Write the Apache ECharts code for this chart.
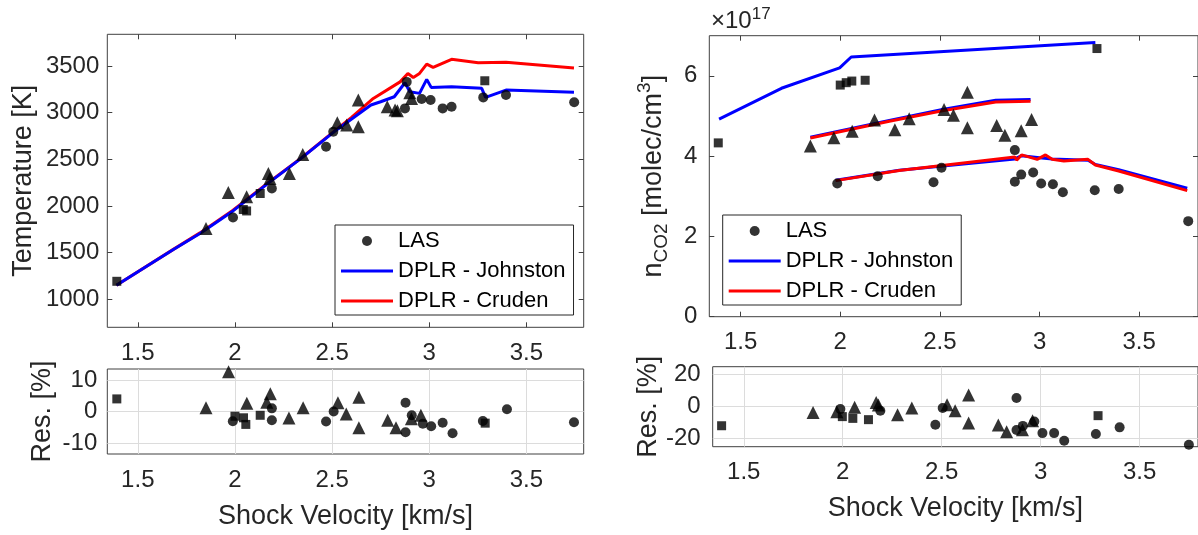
<!DOCTYPE html>
<html>
<head>
<meta charset="utf-8">
<script src="https://cdn.jsdelivr.net/npm/echarts@6/dist/echarts.min.js"></script>
<style>html,body{margin:0;padding:0;background:#fff}#c{width:1198px;height:535px}</style>
</head>
<body>
<div id="c"></div>
<script>
// ---------- Temperature panel (top-left) ----------
const tempJohnstonV = [1.39, 1.683, 1.82, 1.99, 2.18, 2.34, 2.51, 2.70, 2.75, 2.82, 2.875, 2.90, 2.95, 2.987, 3.01, 3.115, 3.27, 3.29, 3.395, 3.745];
const tempJohnstonT = [1150, 1533, 1705, 1947, 2259, 2510, 2795, 3082, 3117, 3171, 3321, 3224, 3207, 3357, 3271, 3278, 3261, 3164, 3242, 3218];
const tempCrudenV = [1.39, 1.683, 1.82, 1.99, 2.18, 2.34, 2.51, 2.60, 2.712, 2.85, 2.89, 2.918, 2.95, 2.987, 3.02, 3.115, 3.252, 3.395, 3.745];
const tempCrudenT = [1150, 1535, 1712, 1955, 2262, 2512, 2800, 2950, 3153, 3330, 3420, 3378, 3421, 3521, 3486, 3572, 3536, 3540, 3479];
const tempCircV = [1.99, 2.19, 2.469, 2.506, 2.875, 2.884, 2.961, 3.007, 3.069, 3.115, 3.278, 3.395, 3.746];
const tempCircT = [1877, 2188, 2634, 2795, 3046, 3330, 3146, 3135, 3046, 3064, 3164, 3189, 3111];
const tempTriV = [1.851, 1.966, 2.06, 2.172, 2.18, 2.28, 2.349, 2.527, 2.575, 2.635, 2.635, 2.784, 2.824, 2.836, 2.90, 2.909];
const tempTriT = [1759, 2145, 2098, 2349, 2295, 2349, 2553, 2892, 2867, 3135, 2849, 3064, 3028, 3020, 3214, 3153];
const tempSqV = [1.392, 2.043, 2.06, 2.13, 3.286];
const tempSqT = [1193, 1962, 1947, 2134, 3342];

// ---------- Temperature residuals (bottom-left) ----------
const resTCircV = [1.989, 2.19, 2.19, 2.469, 2.508, 2.878, 2.878, 2.91, 2.967, 3.01, 3.069, 3.12, 3.276, 3.4, 3.745];
const resTCircR = [-3.1, 1.0, -2.8, -3.2, 0.0, 2.8, -6.6, -1.2, -3.9, -4.7, -3.6, -6.9, -3.0, 0.7, -3.4];
const resTTriV = [1.851, 1.967, 2.061, 2.164, 2.182, 2.278, 2.351, 2.53, 2.573, 2.638, 2.638, 2.786, 2.829, 2.908, 2.957];
const resTTriR = [1.2, 12.6, 2.6, 2.9, 5.6, -2.1, 1.2, 2.8, -0.8, 4.5, -5.2, -2.8, -5.2, -2.3, -1.2];
const resTSqV = [1.392, 2.0, 2.044, 2.056, 2.13, 3.288];
const resTSqR = [4.0, -1.5, -2.0, -4.1, -1.2, -3.7];

// ---------- CO2 number density panel (top-right), units of 1e17 ----------
const nUpperJohnstonV = [1.392, 1.705, 1.997, 2.055, 3.28];
const nUpperJohnstonN = [4.92, 5.69, 6.20, 6.47, 6.83];
const nMidJohnstonV = [1.85, 2.246, 2.513, 2.78, 2.955];
const nMidJohnstonN = [4.47, 4.89, 5.16, 5.39, 5.41];
const nMidCrudenV = [1.85, 2.246, 2.513, 2.78, 2.955];
const nMidCrudenN = [4.45, 4.87, 5.13, 5.35, 5.37];
const nLowJohnstonV = [1.977, 2.296, 2.876, 2.91, 3.0, 3.063, 3.243, 3.28, 3.397, 3.741];
const nLowJohnstonN = [3.40, 3.65, 3.93, 4.01, 3.96, 3.93, 3.90, 3.79, 3.66, 3.20];
const nLowCrudenV = [1.977, 2.296, 2.876, 2.885, 2.91, 2.988, 3.03, 3.063, 3.122, 3.243, 3.28, 3.397, 3.741];
const nLowCrudenN = [3.39, 3.64, 3.98, 3.90, 4.03, 3.92, 4.03, 3.92, 3.88, 3.92, 3.78, 3.63, 3.14];
const nCircV = [1.985, 2.188, 2.468, 2.508, 2.876, 2.876, 2.908, 2.968, 3.008, 3.067, 3.117, 3.277, 3.397, 3.746];
const nCircN = [3.32, 3.50, 3.35, 3.71, 4.15, 3.36, 3.54, 3.59, 3.32, 3.30, 3.10, 3.15, 3.18, 2.38];
const nTriV = [1.85, 1.968, 2.06, 2.172, 2.274, 2.346, 2.521, 2.568, 2.638, 2.638, 2.785, 2.826, 2.908, 2.96];
const nTriN = [4.25, 4.46, 4.62, 4.90, 4.66, 4.93, 5.16, 5.02, 5.59, 4.71, 4.76, 4.52, 4.63, 4.91];
const nSqV = [1.388, 2.0, 2.03, 2.058, 2.125, 3.288];
const nSqN = [4.33, 5.77, 5.83, 5.87, 5.89, 6.68];

// ---------- CO2 residuals (bottom-right) ----------
const resNCircV = [1.988, 2.19, 2.468, 2.505, 2.878, 2.878, 2.91, 2.968, 3.009, 3.068, 3.119, 3.279, 3.399, 3.749];
const resNCircR = [-1.5, -2.5, -11.3, -0.8, 5.4, -14.6, -12.0, -9.3, -16.5, -16.5, -21.3, -17.1, -12.9, -23.8];
const resNTriV = [1.85, 1.97, 2.06, 2.169, 2.18, 2.277, 2.349, 2.527, 2.568, 2.636, 2.636, 2.786, 2.828, 2.908, 2.959];
const resNTriR = [-3.6, -3.1, -0.4, 2.7, 1.0, -5.1, -0.8, 1.2, -2.5, 7.3, -10.2, -11.5, -15.6, -14.4, -8.8];
const resNSqV = [1.388, 1.998, 2.051, 2.13, 3.29];
const resNSqR = [-11.9, -6.2, -7.3, -8.1, -5.6];

// ---------- tick labels ----------
const velTicks = [1.5, 2, 2.5, 3, 3.5];
const tempTicks = [1000, 1500, 2000, 2500, 3000, 3500];
const resTTicks = [-10, 0, 10];
const nTicks = [0, 2, 4, 6];
const resNTicks = [-20, 0, 20];

const zip = (a, b) => a.map((v, i) => [v, b[i]]);
const FF = '"Liberation Sans", Arial, Helvetica, sans-serif';
const TXT = '#262626';
const AX = '#404040';
const XMIN = 1.343, XMAX = 3.795;

const grids = [
  {left: 107.3, top: 34.3, width: 476.4, height: 293},
  {left: 107.3, top: 369, width: 476.4, height: 85},
  {left: 709.3, top: 35.7, width: 490, height: 281},
  {left: 712.7, top: 366.7, width: 487, height: 80}
].map(g => Object.assign(g, {show: true, borderColor: AX, borderWidth: 1, backgroundColor: 'transparent'}));

const xAxis = [], yAxis = [];
function addAxes(g, yr, yt, yName, yGap, yMargin, xName, xGap, yNameStyle) {
  const tick = (vals) => ({show: true, inside: true, length: 5, lineStyle: {color: AX, width: 1}, customValues: vals});
  const noLine = {show: false, onZero: false};
  xAxis.push({
    gridIndex: g, type: 'value', min: XMIN, max: XMAX, position: 'bottom',
    axisLine: noLine, axisTick: tick(velTicks),
    axisLabel: {customValues: velTicks, margin: 14, fontSize: 24, color: TXT, fontFamily: FF, formatter: v => String(v)},
    splitLine: {show: false},
    name: xName || '', nameLocation: 'middle', nameGap: xGap || 0,
    nameTextStyle: {fontSize: 27, color: TXT, fontFamily: FF}
  });
  xAxis.push({
    gridIndex: g, type: 'value', min: XMIN, max: XMAX, position: 'top',
    axisLine: noLine, axisTick: tick(velTicks), axisLabel: {show: false}, splitLine: {show: false}
  });
  yAxis.push({
    gridIndex: g, type: 'value', min: yr[0], max: yr[1], position: 'left',
    axisLine: noLine, axisTick: tick(yt),
    axisLabel: {customValues: yt, margin: yMargin, fontSize: 24, color: TXT, fontFamily: FF, formatter: v => String(v)},
    splitLine: {show: false},
    name: yName, nameLocation: 'middle', nameGap: yGap, nameRotate: 90,
    nameTextStyle: yNameStyle || {fontSize: 27, color: TXT, fontFamily: FF}
  });
  yAxis.push({
    gridIndex: g, type: 'value', min: yr[0], max: yr[1], position: 'right',
    axisLine: noLine, axisTick: tick(yt), axisLabel: {show: false}, splitLine: {show: false}
  });
}
addAxes(0, [700, 3840], tempTicks, 'Temperature [K]', 70, 8);
addAxes(1, [-13.5, 13.5], resTTicks, 'Res. [%]', 51, 10, 'Shock Velocity [km/s]', 49);
addAxes(2, [0, 7], nTicks, '{n|n}{s|CO2}{n| [molec/cm}{p|3}{n|]}', 38, 12, '', 0, {
  color: TXT, fontFamily: FF, fontSize: 27,
  rich: {
    n: {fontSize: 27, lineHeight: 36, color: TXT, fontFamily: FF},
    s: {fontSize: 19, lineHeight: 19, verticalAlign: 'bottom', color: TXT, fontFamily: FF},
    p: {fontSize: 19, lineHeight: 19, verticalAlign: 'top', color: TXT, fontFamily: FF}
  }
});
addAxes(3, [-25, 25], resNTicks, 'Res. [%]', 50, 12, 'Shock Velocity [km/s]', 48);

const BLUE = '#0000ff', RED = '#ff0000', BLK = '#000000';
function line(name, g, v, y, color) {
  return {name, type: 'line', xAxisIndex: 2 * g, yAxisIndex: 2 * g, data: zip(v, y),
    symbol: 'none', color, lineStyle: {color, width: 3}, itemStyle: {color}, z: 2, animation: false};
}
function scat(name, g, v, y, symbol, size) {
  return {name, type: 'scatter', xAxisIndex: 2 * g, yAxisIndex: 2 * g, data: zip(v, y),
    symbol, symbolSize: size, color: BLK, itemStyle: {color: BLK}, z: 3, animation: false};
}
// light grid lines of the residual panels, placed at the tick values through the axes
function gridLines(g, yt) {
  return {name: 'grid', type: 'line', xAxisIndex: 2 * g, yAxisIndex: 2 * g, data: [], z: 1, silent: true,
    markLine: {silent: true, z: 1, symbol: 'none', animation: false, label: {show: false},
      lineStyle: {color: '#dcdcdc', width: 1, type: 'solid'},
      emphasis: {disabled: true},
      data: velTicks.map(v => ({xAxis: v})).concat(yt.map(v => ({yAxis: v})))}};
}
const SQ = 9, CI = 10, TR = 13;
const series = [
  gridLines(1, resTTicks),
  gridLines(3, resNTicks),
  line('DPLR - Cruden', 0, tempCrudenV, tempCrudenT, RED),
  line('DPLR - Johnston', 0, tempJohnstonV, tempJohnstonT, BLUE),
  scat('sq', 0, tempSqV, tempSqT, 'rect', SQ),
  scat('tri', 0, tempTriV, tempTriT, 'triangle', TR),
  scat('LAS', 0, tempCircV, tempCircT, 'circle', CI),

  scat('sq', 1, resTSqV, resTSqR, 'rect', SQ),
  scat('tri', 1, resTTriV, resTTriR, 'triangle', TR),
  scat('LAS', 1, resTCircV, resTCircR, 'circle', CI),

  line('DPLR - Johnston', 2, nUpperJohnstonV, nUpperJohnstonN, BLUE),
  line('DPLR - Johnston', 2, nMidJohnstonV, nMidJohnstonN, BLUE),
  line('DPLR - Johnston', 2, nLowJohnstonV, nLowJohnstonN, BLUE),
  line('DPLR - Cruden', 2, nMidCrudenV, nMidCrudenN, RED),
  line('DPLR - Cruden', 2, nLowCrudenV, nLowCrudenN, RED),
  scat('sq', 2, nSqV, nSqN, 'rect', SQ),
  scat('tri', 2, nTriV, nTriN, 'triangle', TR),
  scat('LAS', 2, nCircV, nCircN, 'circle', CI),

  scat('sq', 3, resNSqV, resNSqR, 'rect', SQ),
  scat('tri', 3, resNTriV, resNTriR, 'triangle', TR),
  scat('LAS', 3, resNCircV, resNCircR, 'circle', CI)
];

const LINE_ICON = 'path://M0,0H52V3H0Z';
function legendAt(left, top) {
  return {
    orient: 'vertical', left, top, itemWidth: 52, itemHeight: 10, itemGap: 8,
    padding: [5, 8, 3, 6], backgroundColor: '#ffffff', borderColor: TXT, borderWidth: 1, borderRadius: 0,
    textStyle: {fontSize: 22, color: '#000', fontFamily: FF},
    selectedMode: false,
    data: [
      {name: 'LAS', icon: 'circle'},
      {name: 'DPLR - Johnston', icon: LINE_ICON},
      {name: 'DPLR - Cruden', icon: LINE_ICON}
    ]
  };
}

const chart = echarts.init(document.getElementById('c'), null, {renderer: 'canvas'});
chart.setOption({
  animation: false,
  backgroundColor: '#ffffff',
  grid: grids,
  xAxis, yAxis,
  legend: [legendAt(335, 225), legendAt(722.7, 215)],
  graphic: [{
    type: 'text', left: 711, top: 6, z: 10,
    style: {
      text: '{a|×10}{b|17}',
      rich: {
        a: {fontSize: 24, lineHeight: 30, fill: TXT, fontFamily: FF},
        b: {fontSize: 17, lineHeight: 17, verticalAlign: 'top', fill: TXT, fontFamily: FF}
      }
    }
  }],
  series
});
</script>
</body>
</html>
